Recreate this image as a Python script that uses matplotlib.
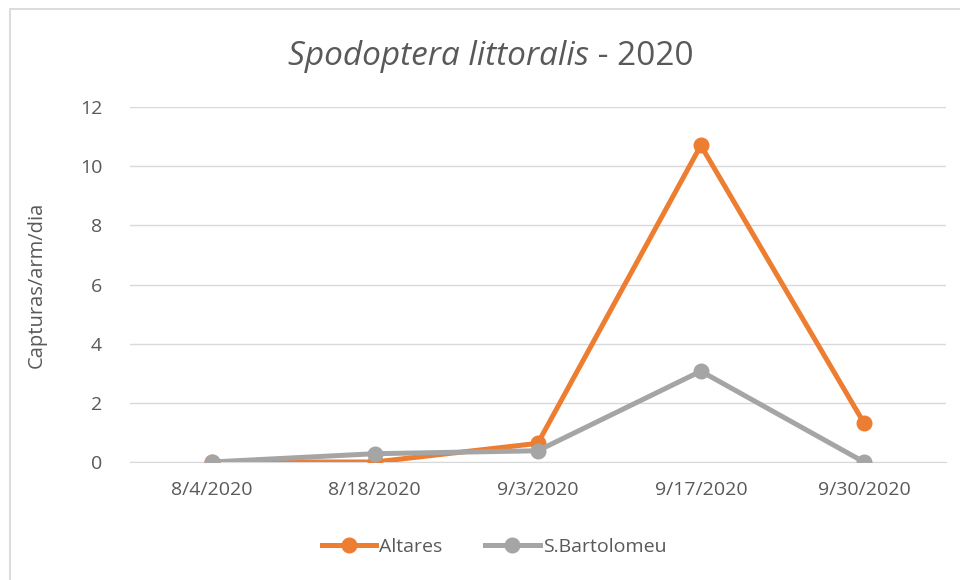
import matplotlib
matplotlib.use("Agg")
import matplotlib.pyplot as plt
from matplotlib.patches import Rectangle

dates = ["8/4/2020", "8/18/2020", "9/3/2020", "9/17/2020", "9/30/2020"]
altares = [0.0, 0.0, 0.63, 10.7, 1.32]
bartolomeu = [0.0, 0.28, 0.38, 3.07, 0.0]
yticks = [0, 2, 4, 6, 8, 10, 12]

plt.rcParams['font.family'] = ['Open Sans', 'DejaVu Sans']
txt = '#595959'
fig = plt.figure(figsize=(9.6, 5.8), dpi=100)
fig.patches.append(Rectangle((10/960, -0.05), 1.0, 1.05 - 9/580, transform=fig.transFigure,
                             fill=False, edgecolor='#d9d9d9', linewidth=1.3))
ax = fig.add_axes([130/960, 1 - 462/580, 815.5/960, 355/580])
x = list(range(len(dates)))
ax.plot(x, altares, color='#ED7D31', lw=3.6, marker='o', ms=10.5, label='Altares', zorder=3)
ax.plot(x, bartolomeu, color='#A5A5A5', lw=3.6, marker='o', ms=10.5, label='S.Bartolomeu', zorder=3)
ax.set_xlim(-0.5, 4.5)
ax.set_ylim(0, 12)
ax.set_yticks(yticks)
ax.set_xticks(x)
ax.set_xticklabels(dates)
ax.grid(axis='y', color='#d9d9d9', lw=1)
ax.set_axisbelow(True)
for s in ['top', 'right', 'left']:
    ax.spines[s].set_visible(False)
ax.spines['bottom'].set_color('#d9d9d9')
ax.tick_params(axis='both', length=0, labelsize=14, labelcolor=txt)
ax.tick_params(axis='x', pad=14)
ax.tick_params(axis='y', pad=20)
ax.set_ylabel('Capturas/arm/dia', fontsize=14.5, color=txt, labelpad=24)

# Title: italic species + normal year
fig.canvas.draw()
r = fig.canvas.get_renderer()
t1 = fig.text(0, 0, 'Spodoptera littoralis', fontsize=24, style='italic', color=txt)
t2 = fig.text(0, 0, ' - 2020', fontsize=24, color=txt)
w1 = t1.get_window_extent(r).width
w2 = t2.get_window_extent(r).width
cx = 491
x0 = cx - (w1 + w2) / 2
ty = 1 - 65/580
t1.set_position((x0/960, ty))
t2.set_position(((x0 + w1)/960, ty))

fig.legend(loc='center', bbox_to_anchor=(494/960, 1 - 547/580), ncol=2, frameon=False,
           fontsize=14, labelcolor=txt, handlelength=2.8, columnspacing=2.2, handletextpad=0.15,
           markerscale=1.0)
fig.savefig('out.png', dpi=100)
